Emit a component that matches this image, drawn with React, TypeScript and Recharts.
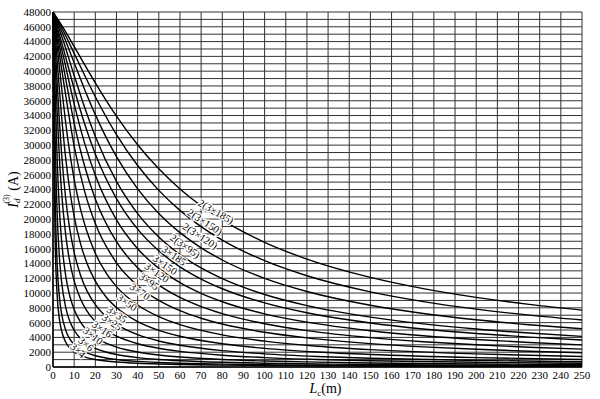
import { LineChart, Line, XAxis, YAxis, CartesianGrid, ReferenceDot } from "recharts";

// cable length axis (m)
const X_TICKS = [0, 10, 20, 30, 40, 50, 60, 70, 80, 90, 100, 110, 120, 130, 140, 150, 160, 170, 180, 190, 200, 210, 220, 230, 240, 250];
const Y_TICKS = [0, 2000, 4000, 6000, 8000, 10000, 12000, 14000, 16000, 18000, 20000, 22000, 24000, 26000, 28000, 30000, 32000, 34000, 36000, 38000, 40000, 42000, 44000, 46000, 48000];
const GRID_Y = Array.from({ length: 49 }, (_, i) => i * 1000);

// sample lengths
const L_MAIN = [0, 5, 10, 15, 20, 30, 40, 50, 60, 70, 80, 100, 120, 150, 175, 200, 225, 250];
const L_FINE = [0, 0.5, 1, 2, 3, 4, 6, 8, 10, 13, 16, 20, 25, 30, 40, 50, 60, 80, 100, 125, 150, 200, 250];

// short-circuit current I_d(3) in A, per cable
const I_2x185 = [48000, 45775, 43340, 40860, 38420, 33915, 30043, 26791, 24076, 21802, 19884, 16854, 14590, 12114, 10600, 9417, 8468, 7691];
const I_2x150 = [48000, 45356, 42406, 39415, 36535, 31420, 27242, 23884, 21180, 18978, 17166, 14371, 12334, 10153, 8841, 7825, 7017, 6359];
const I_2x120 = [48000, 44776, 41128, 37500, 34125, 28440, 24082, 20751, 18165, 16118, 14468, 11982, 10209, 8344, 7237, 6387, 5714, 5169];
const I_2x95 = [48000, 43984, 39412, 35044, 31179, 25089, 20745, 17586, 15217, 13389, 11941, 9802, 8304, 6749, 5835, 5138, 4589, 4146];
const I_185 = [48000, 42949, 37617, 32832, 28808, 22770, 18641, 15709, 13543, 11887, 10583, 8669, 7336, 5956, 5147, 4531, 4046, 3655];
const I_150 = [48000, 41910, 35573, 30201, 25926, 19895, 16000, 13331, 11404, 9954, 8826, 7189, 6061, 4903, 4229, 3717, 3316, 2992];
const I_120 = [48000, 40486, 32985, 27106, 22729, 16943, 13408, 11061, 9401, 8168, 7218, 5853, 4920, 3969, 3417, 3000, 2674, 2412];
const I_95 = [48000, 38579, 29857, 23680, 19401, 14088, 10998, 9001, 7610, 6588, 5807, 4692, 3935, 3167, 2724, 2390, 2128, 1918];
const I_70 = [48000, 46996, 45850, 43310, 40619, 37939, 32994, 28810, 25374, 21356, 18343, 15376, 12749, 10870, 8376, 6804, 5725, 4344, 3499, 2813, 2352, 1771, 1421];
const I_50 = [48000, 46602, 44961, 41315, 37597, 34111, 28233, 23761, 20373, 16679, 14067, 11606, 9504, 8038, 6135, 4957, 4157, 3142, 2524, 2026, 1692, 1273, 1020];
const I_35 = [48000, 45977, 43529, 38247, 33308, 29098, 22785, 18509, 15506, 12418, 10333, 8429, 6843, 5756, 4365, 3514, 2940, 2216, 1778, 1426, 1190, 894, 716];
const I_25 = [48000, 45079, 41494, 34317, 28409, 23903, 17854, 14128, 11650, 9199, 7590, 6149, 4966, 4164, 3146, 2527, 2112, 1589, 1274, 1021, 851, 639, 512];
const I_16 = [48000, 43155, 37415, 27821, 21483, 17307, 12334, 9536, 7759, 6057, 4965, 4000, 3218, 2691, 2027, 1626, 1357, 1020, 817, 654, 545, 409, 328];
const I_10 = [48000, 39749, 31277, 20536, 14939, 11664, 8065, 6150, 4966, 3852, 3145, 2526, 2027, 1693, 1273, 1020, 851, 639, 511, 409, 341, 256, 205];
const I_6 = [48000, 33910, 23353, 13677, 9547, 7311, 4968, 3759, 3022, 2335, 1902, 1525, 1222, 1020, 766, 613, 511, 384, 307, 246, 205, 154, 123];
const I_4 = [48000, 27903, 17347, 9549, 6543, 4968, 3351, 2527, 2028, 1564, 1273, 1020, 817, 681, 511, 409, 341, 256, 205, 164, 137, 103, 82];

const CABLES = ["2(3×185)", "2(3×150)", "2(3×120)", "2(3×95)", "3×185", "3×150", "3×120", "3×95", "3×70", "3×50", "3×35", "3×25", "3×16", "3×10", "3×6", "3×4"];
const CURRENTS = [I_2x185, I_2x150, I_2x120, I_2x95, I_185, I_150, I_120, I_95, I_70, I_50, I_35, I_25, I_16, I_10, I_6, I_4];

// where each cable name sits on the chart (length, current, tilt)
const LABEL_L = [77, 71.8, 69.5, 62.4, 57.2, 52.9, 49.1, 45.4, 41.1, 35, 30.2, 27.9, 23.2, 18.9, 15.6, 11.8];
const LABEL_I = [21000, 19600, 17700, 16350, 15050, 13800, 12750, 11550, 10200, 8700, 7100, 6050, 5100, 4200, 3100, 2200];
const LABEL_ANGLE = [30, 33, 33, 35, 35, 35, 35, 35, 35, 35, 35, 35, 35, 38, 40, 42];

const FONT = "'Liberation Serif', 'Times New Roman', serif";
const INK = "#000";

const series = CABLES.map((name, i) => {
  const xs = i < 8 ? L_MAIN : L_FINE;
  return { name, data: xs.map((x, j) => ({ x, y: CURRENTS[i][j] })) };
});

function CurveLabel({ cx, cy, text, angle }: { cx?: number; cy?: number; text: string; angle: number }) {
  if (cx == null || cy == null) return null;
  return (
    <text
      x={cx}
      y={cy}
      transform={`rotate(${angle} ${cx} ${cy})`}
      textAnchor="middle"
      dominantBaseline="central"
      fontFamily={FONT}
      fontSize={10.5}
      fill={INK}
      stroke="#fff"
      strokeWidth={2.5}
      paintOrder="stroke"
    >
      {text}
    </text>
  );
}

function YTitle({ viewBox }: any) {
  const cx = 13;
  const cy = viewBox.y + viewBox.height / 2;
  return (
    <text transform={`translate(${cx} ${cy}) rotate(-90)`} textAnchor="middle" fontFamily={FONT} fontSize={14} fill={INK} dominantBaseline="central">
      <tspan fontStyle="italic">I</tspan>
      <tspan fontStyle="italic" fontSize={9} dy={4}>d</tspan>
      <tspan fontSize={8} dx={-5} dy={-11}>(3)</tspan>
      <tspan dy={7}> (A)</tspan>
    </text>
  );
}

function XTitle({ viewBox }: any) {
  const cx = viewBox.x + viewBox.width / 2 + 8;
  return (
    <text x={cx} y={393} textAnchor="middle" fontFamily={FONT} fontSize={14} fill={INK}>
      <tspan fontStyle="italic">L</tspan>
      <tspan fontSize={9} dy={3}>c</tspan>
      <tspan dy={-3}>(m)</tspan>
    </text>
  );
}

export default function App() {
  return (
    <div style={{ position: "absolute", left: 0, top: 0, width: 600, height: 399, background: "#fff" }}>
      <LineChart width={600} height={399} margin={{ top: 12, right: 18, bottom: 0, left: 0 }}>
        <CartesianGrid horizontalValues={GRID_Y} verticalValues={X_TICKS} stroke="#333" strokeWidth={1} />
        <XAxis
          type="number"
          dataKey="x"
          domain={[0, 250]}
          ticks={X_TICKS}
          interval={0}
          height={32}
          tickLine={false}
          tickSize={0}
          tickMargin={4}
          axisLine={{ stroke: INK, strokeWidth: 1.5 }}
          tick={{ fontSize: 11, fill: INK, fontFamily: FONT }}
          label={{ content: XTitle }}
        />
        <YAxis
          type="number"
          domain={[0, 48000]}
          ticks={Y_TICKS}
          interval={0}
          width={53}
          tickLine={false}
          tickSize={0}
          tickMargin={2}
          axisLine={{ stroke: INK, strokeWidth: 1.5 }}
          tick={{ fontSize: 11, fill: INK, fontFamily: FONT }}
          label={{ content: YTitle }}
        />
        {series.map((s) => (
          <Line
            key={s.name}
            data={s.data}
            dataKey="y"
            type="monotone"
            stroke={INK}
            strokeWidth={1.4}
            dot={false}
            activeDot={false}
            isAnimationActive={false}
          />
        ))}
        {CABLES.map((name, i) => (
          <ReferenceDot
            key={"lbl" + name}
            x={LABEL_L[i]}
            y={LABEL_I[i]}
            r={1}
            shape={(p: any) => <CurveLabel cx={p.cx} cy={p.cy} text={name} angle={LABEL_ANGLE[i]} />}
          />
        ))}
      </LineChart>
    </div>
  );
}
